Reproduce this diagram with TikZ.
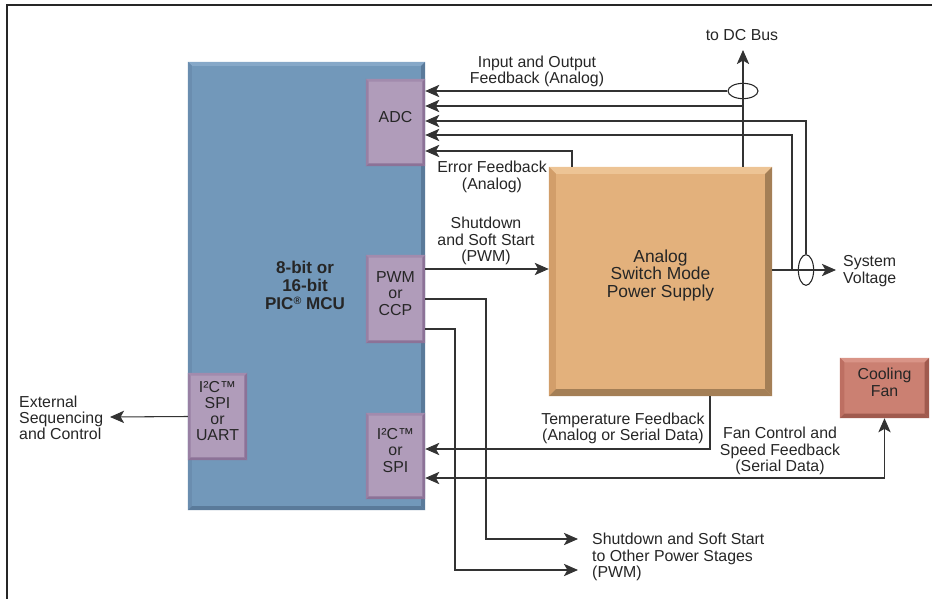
\documentclass[tikz,border=0pt]{standalone}
\usepackage{fontspec}
\setmainfont{Liberation Sans}
\usetikzlibrary{arrows.meta,fit,shapes.geometric}
\definecolor{mcufill}{HTML}{7298BA}
\definecolor{mcutop}{HTML}{86A8C8}
\definecolor{mculeft}{HTML}{6A8DAF}
\definecolor{mcudark}{HTML}{5A7A9A}
\definecolor{iofill}{HTML}{B09CBA}
\definecolor{iotop}{HTML}{A28BAD}
\definecolor{ioleft}{HTML}{9880A3}
\definecolor{iodark}{HTML}{8C7297}
\definecolor{psufill}{HTML}{E3B17C}
\definecolor{psutop}{HTML}{EDC495}
\definecolor{psuleft}{HTML}{D29E6A}
\definecolor{psudark}{HTML}{A47F56}
\definecolor{fanfill}{HTML}{CB8072}
\definecolor{fantop}{HTML}{D99487}
\definecolor{fanleft}{HTML}{BD6F62}
\definecolor{fandark}{HTML}{A05A4E}
\definecolor{ink}{HTML}{262626}
\tikzset{
	blk/.style={inner sep=0pt, align=center, text=ink},
	mcu/.style={blk, fill=mcufill},
	io/.style={blk, fill=iofill},
	psu/.style={blk, fill=psufill, font=\fontsize{14.8}{15}\selectfont},
	fan/.style={blk, fill=fanfill},
	wire/.style={draw=black!80, line width=0.9pt},
	arr/.style={wire, -{Stealth[length=12pt,width=10.5pt,inset=3pt]}},
	dbl/.style={wire, {Stealth[length=12pt,width=10.5pt,inset=3pt]}-{Stealth[length=12pt,width=10.5pt,inset=3pt]}},
	ring/.style={draw=black!85, line width=0.9pt, ellipse, inner sep=0pt},
	lbl/.style={inner sep=0pt, align=center, text=ink},
}
\newcommand\bevelbox[5]{%
	\fill[#3] (#1.north west) -- (#1.north east) -- ([shift={(-#2,-#2)}]#1.north east) -- ([shift={(#2,-#2)}]#1.north west) -- cycle;
	\fill[#4] (#1.north west) -- ([shift={(#2,-#2)}]#1.north west) -- ([shift={(#2,#2)}]#1.south west) -- (#1.south west) -- cycle;
	\fill[#5] (#1.south west) -- (#1.south east) -- ([shift={(-#2,#2)}]#1.south east) -- ([shift={(#2,#2)}]#1.south west) -- cycle;
	\fill[#5] (#1.south east) -- (#1.north east) -- ([shift={(-#2,-#2)}]#1.north east) -- ([shift={(-#2,#2)}]#1.south east) -- cycle;
}

\begin{document}
\begin{tikzpicture}[x=0.85pt, y=-0.85pt, font=\fontsize{13.5}{13.8}\selectfont]
	\useasboundingbox (0,0) rectangle (932,599);
	\draw[line width=1.6pt, black!85] (7,599) -- (7,5) -- (932,5);

	\node[mcu, fit={(188,62) (425,510)}] (mcu) {};
	\bevelbox{mcu}{3.5pt}{mcutop}{mculeft}{mcudark}
	\node[lbl, font=\bfseries\fontsize{14.5}{15.3}\selectfont] (mculbl) at (305,285.5) {8-bit or\\16-bit\\PIC\raisebox{0.55ex}{\fontsize{9}{9}\selectfont\textregistered} MCU};

	\node[io, fit={(366,79) (425,166)}] (adc) {ADC};
	\bevelbox{adc}{2.5pt}{iotop}{ioleft}{iodark}
	\node[io, fit={(366,255) (425,343)}] (pwm) {PWM\\or\\CCP};
	\bevelbox{pwm}{2.5pt}{iotop}{ioleft}{iodark}
	\node[io, fit={(366,413) (425,499)}] (spi) {I²C™\\or\\SPI};
	\bevelbox{spi}{2.5pt}{iotop}{ioleft}{iodark}
	\node[io, fit={(188,373) (247,460)}] (uart) {I²C™\\SPI\\or\\UART};
	\bevelbox{uart}{2.5pt}{iotop}{ioleft}{iodark}

	\node[psu, fit={(549,167) (772,396)}] (psu) {Analog\\Switch Mode\\Power Supply};
	\bevelbox{psu}{6pt}{psutop}{psuleft}{psudark}
	\node[fan, fit={(840,358) (929,418)}] (fan) {Cooling\\Fan};
	\bevelbox{fan}{4pt}{fantop}{fanleft}{fandark}

	\coordinate (dcbus) at (743,50);
	\coordinate (sv) at (836,270);
	\coordinate (ext) at (110,417);
	\coordinate (out1) at (578,539);
	\coordinate (out2) at (578,570);
	\node[ring, minimum width=25.5pt, minimum height=13pt] (ring1) at (743,91) {};
	\node[ring, minimum width=13pt, minimum height=26pt] (ring2) at (806,270) {};

	\draw[arr] (psu.north -| dcbus) -- (dcbus);
	\draw[arr] (ring1.west) -- (adc.east |- ring1.west);
	\draw[arr] (dcbus |- 0,106) -- (adc.east |- 0,106);
	\draw[arr] (ring2.north) -- (ring2.north |- 0,121) -- (adc.east |- 0,121);
	\draw[arr] (792,270) -- (792,135) -- (adc.east |- 0,135);
	\draw[arr] (psu.north -| 572,0) -- (572,151) -- (adc.east |- 0,151);
	\draw[arr] (psu.east |- sv) -- (sv);

	\draw[arr] (pwm.east |- 0,269) -- (psu.west |- 0,269);
	\draw[arr] (pwm.east |- 0,299) -- (486,299) -- (out1 -| 486,0) -- (out1);
	\draw[arr] (pwm.east |- 0,329) -- (455,329) -- (out2 -| 455,0) -- (out2);

	\draw[arr] (psu.south -| 710,0) -- (710,449) -- (spi.east |- 0,449);
	\draw[dbl] (spi.east |- 0,478) -- (fan.south |- 0,478) -- (fan.south);
	\draw[arr] (uart.west) -- (ext);

	\node[lbl, anchor=base] (dclbl) at (742,41) {to DC Bus};
	\node[lbl] (fblbl) at (537,71.5) {Input and Output\\Feedback (Analog)};
	\node[lbl] (errlbl) at (492,177) {Error Feedback\\(Analog)};
	\node[lbl] (sslbl) at (486,241) {Shutdown\\and Soft Start\\(PWM)};
	\node[lbl, anchor=west, align=left] (svlbl) at (843,271) {System\\Voltage};
	\node[lbl] (templbl) at (623,428.5) {Temperature Feedback\\(Analog or Serial Data)};
	\node[lbl] (fanlbl) at (780,451) {Fan Control and\\Speed Feedback\\(Serial Data)};
	\node[lbl, anchor=west, align=left] (outlbl) at (592,557) {Shutdown and Soft Start\\to Other Power Stages\\(PWM)};
	\node[lbl, anchor=west, align=left] (extlbl) at (19,418) {External\\Sequencing\\and Control};
\end{tikzpicture}
\end{document}
